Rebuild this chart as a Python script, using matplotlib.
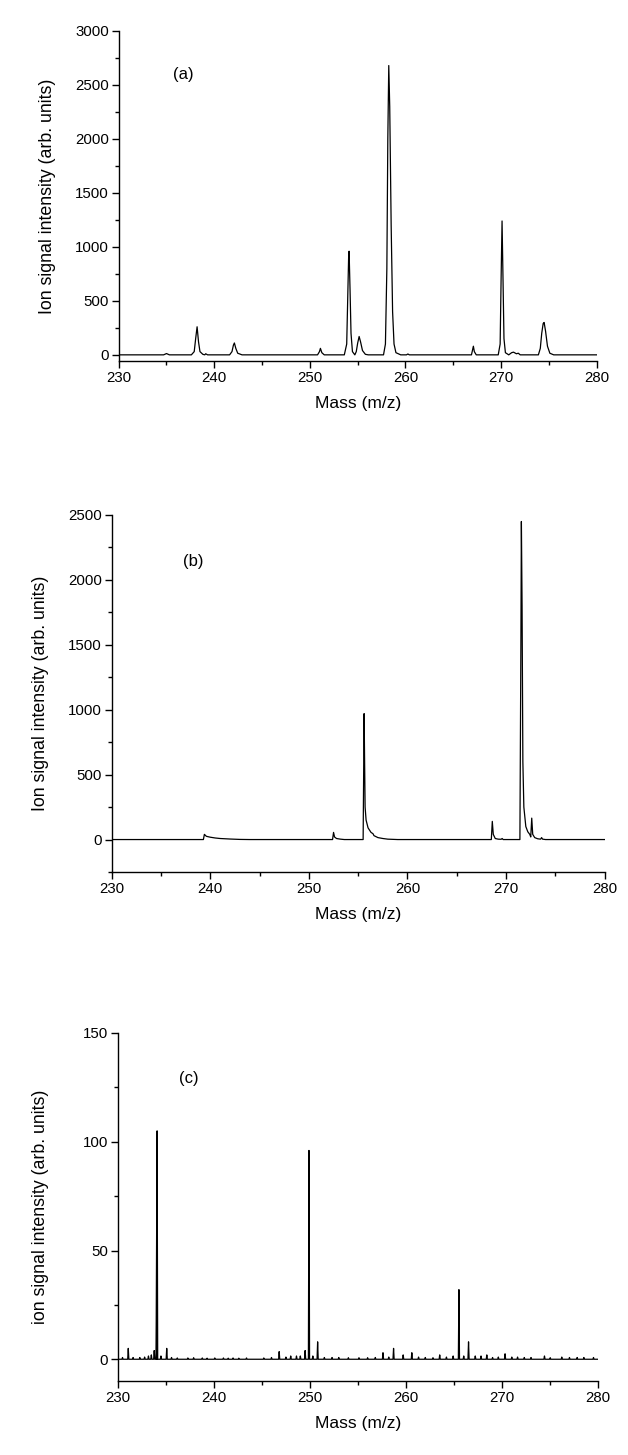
import matplotlib
matplotlib.use("Agg")
import matplotlib.pyplot as plt
from matplotlib.ticker import MultipleLocator

plt.rcParams['font.family'] = ['Liberation Sans', 'DejaVu Sans']

# ---------------- data ----------------
mass_a = [230, 234.7, 235.0, 235.3, 237.6, 237.9, 238.05, 238.2, 238.35, 238.5, 238.8, 239.0,
          239.1, 239.3, 241.6, 241.85, 242.0, 242.1, 242.25, 242.45, 242.9, 250.8, 251.0, 251.1,
          251.25, 251.5, 253.6, 253.85, 253.95, 254.05, 254.1, 254.2, 254.3, 254.45, 254.7,
          254.85, 255.0, 255.15, 255.3, 255.5, 255.8, 256.1, 257.7, 257.9, 258.05, 258.15,
          258.25, 258.35, 258.5, 258.65, 258.8, 259.0, 259.5, 260.1, 260.25, 260.4, 266.9,
          267.0, 267.1, 267.2, 267.4, 269.7, 269.9, 270.0, 270.1, 270.2, 270.3, 270.45, 270.8,
          271.1, 271.3, 271.6, 271.8, 272.0, 273.9, 274.1, 274.25, 274.4, 274.5, 274.65,
          274.85, 275.1, 275.5, 280]
signal_a = [0, 0, 12, 0, 0, 30, 150, 260, 120, 30, 5, 0,
            10, 0, 0, 30, 90, 110, 60, 15, 0, 0, 30, 60,
            20, 0, 0, 100, 500, 900, 960, 600, 200, 30, 0,
            30, 110, 170, 120, 40, 5, 0, 0, 100, 800, 2000,
            2680, 2300, 1200, 400, 100, 20, 0, 0, 8, 0, 0,
            40, 80, 30, 0, 0, 100, 700, 1240, 700, 150, 20, 0,
            20, 25, 10, 15, 0, 0, 60, 200, 290, 300, 220,
            80, 15, 0, 0]

mass_b = [230, 239.3, 239.4, 239.6, 240.0, 240.5, 241.0, 242.0, 243.0, 244.0,
          252.4, 252.5, 252.6, 252.8, 253.2, 253.6, 255.5, 255.6, 255.65, 255.7, 255.8,
          256.0, 256.3, 256.5, 256.6, 257.0, 257.5, 258.0, 259.0, 268.5, 268.6, 268.7,
          268.9, 269.2, 269.5, 269.6, 269.7, 271.4, 271.5, 271.55, 271.62, 271.7, 271.8,
          272.0, 272.2, 272.4, 272.5, 272.6, 272.7, 272.9, 273.2, 273.5, 273.6, 273.7,
          274.0, 280]
signal_b = [0, 0, 40, 25, 18, 12, 8, 4, 1, 0,
            0, 55, 20, 8, 3, 0, 0, 970, 600, 250, 150,
            90, 55, 45, 30, 15, 8, 3, 0, 0, 140, 40,
            8, 3, 2, 8, 0, 0, 1500, 2450, 1800, 600, 250,
            100, 60, 40, 20, 165, 40, 15, 6, 3, 15, 3,
            0, 0]

peak_mass_c = [230.5, 231.1, 231.6, 232.3, 232.8, 233.2, 233.5, 233.8, 234.05, 234.1, 234.5,
               235.1, 235.6, 236.2, 237.3, 237.9, 238.8, 239.3, 240.1, 241.0, 241.5, 242.0,
               242.6, 243.4, 245.2, 246.0, 246.8, 247.5, 248.0, 248.6, 249.0, 249.5, 249.9,
               250.3, 250.8, 251.5, 252.3, 253.0, 254.0, 255.1, 256.0, 256.8, 257.6, 258.2,
               258.7, 259.7, 260.6, 261.3, 262.0, 262.8, 263.5, 264.2, 264.9, 265.5, 266.0,
               266.5, 267.2, 267.8, 268.4, 269.0, 269.6, 270.3, 271.0, 271.6, 272.3, 273.0,
               274.4, 275.0, 276.2, 277.0, 277.8, 278.5, 279.5]
peak_signal_c = [0.8, 5, 0.8, 0.8, 1, 1.5, 2, 4, 58, 105, 1.5,
                 5, 0.8, 0.6, 0.6, 0.7, 0.6, 0.5, 0.6, 0.6, 0.5, 0.6,
                 0.5, 0.6, 0.6, 0.8, 3.5, 1, 1.5, 1.5, 1.5, 4, 96,
                 1.5, 8, 0.8, 0.8, 0.8, 0.7, 0.7, 0.7, 0.8, 3, 1,
                 5, 2, 3, 1, 0.8, 0.7, 2, 1, 1.5, 32, 1.5,
                 8, 1.5, 1.5, 2, 0.8, 1, 2.5, 1, 1, 0.8, 0.8,
                 1.5, 0.7, 1, 0.8, 0.8, 0.8, 0.8]

xlim = (230, 280)
x_ticks = [230, 240, 250, 260, 270, 280]
x_label = "Mass (m/z)"
panel_labels = ["(a)", "(b)", "(c)"]
y_labels = ["Ion signal intensity (arb. units)", "Ion signal intensity (arb. units)",
            "ion signal intensity (arb. units)"]

# ---------------- figure ----------------
W, H = 628, 1455
fig = plt.figure(figsize=(W / 100, H / 100), dpi=100)


def add_ax(left, right, top, bottom):
    return fig.add_axes([left / W, 1 - bottom / H, (right - left) / W, (bottom - top) / H])


def style(ax, ylim, major, minor):
    ax.set_xlim(*xlim)
    ax.set_ylim(*ylim)
    ax.set_xticks(x_ticks)
    ax.xaxis.set_minor_locator(MultipleLocator(5))
    ax.yaxis.set_major_locator(MultipleLocator(major))
    ax.yaxis.set_minor_locator(MultipleLocator(minor))
    for s in ['top', 'right']:
        ax.spines[s].set_visible(False)
    for s in ['left', 'bottom']:
        ax.spines[s].set_linewidth(1.0)
    ax.tick_params(which='major', direction='out', length=5, width=1.0, labelsize=10.8, pad=2)
    ax.tick_params(which='minor', direction='out', length=3, width=1.0)
    ax.set_xlabel(x_label, fontsize=12.5, labelpad=8)


# panel (a)
ax1 = add_ax(118.7, 596.7, 31, 361)
ax1.plot(mass_a, signal_a, color='black', lw=0.9)
style(ax1, (-57, 3000), 500, 250)
ax1.set_ylabel(y_labels[0], fontsize=12.8, labelpad=14)

# panel (b)
ax2 = add_ax(111.7, 604.7, 515, 872)
ax2.plot(mass_b, signal_b, color='black', lw=0.9)
style(ax2, (-250, 2500), 500, 250)
ax2.set_ylabel(y_labels[1], fontsize=12.8, labelpad=14)

# panel (c)
ax3 = add_ax(117.7, 598.3, 1033, 1381)
mc, sc = [xlim[0]], [0]
for p, h in zip(peak_mass_c, peak_signal_c):
    mc += [p - 0.06, p, p + 0.06]
    sc += [0, h, 0]
mc.append(xlim[1])
sc.append(0)
ax3.plot(mc, sc, color='black', lw=0.9)
style(ax3, (-10, 150), 50, 25)
ax3.set_ylabel(y_labels[2], fontsize=12.8, labelpad=24)

# panel labels placed in pixel coordinates
fig.text(183 / W, 1 - 75 / H, panel_labels[0], fontsize=12, ha='center', va='center')
fig.text(193 / W, 1 - 562 / H, panel_labels[1], fontsize=12, ha='center', va='center')
fig.text(189 / W, 1 - 1079 / H, panel_labels[2], fontsize=12, ha='center', va='center')

fig.savefig("out.png", dpi=100)
